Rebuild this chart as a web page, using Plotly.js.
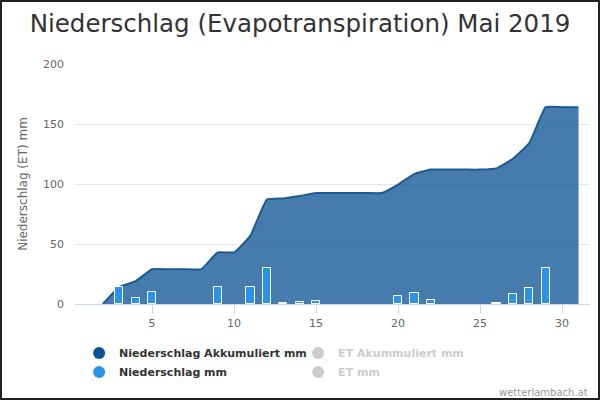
<!DOCTYPE html>
<html>
<head>
<meta charset="utf-8">
<script src="https://cdn.plot.ly/plotly-3.0.1.min.js"></script>
<style>
  body { margin: 0; background: #fff; }
  #chart { width: 596px; height: 396px; border: 2px solid #222; }
</style>
</head>
<body>
<div id="chart"></div>
<script>
const tage = [1,2,3,4,5,6,7,8,9,10,11,12,13,14,15,16,17,18,19,20,21,22,23,24,25,26,27,28,29,30,31];
// Tageswerte Niederschlag mm (null = kein Regen)
const niederschlag = [null,null,14,5,10,null,null,null,14,null,14,30,1,2,2.5,null,null,null,null,7,9,3.5,null,null,null,1,8,13,30,null,null];
// Niederschlag akkumuliert mm
const akkumuliert = [null,0,14,19,29,29,29,29,43,43,57,87,88,90,92.5,92.5,92.5,92.5,92.5,99.5,108.5,112,112,112,112,113,121,134,164,164,164];
const xTicks = [5,10,15,20,25,30];
const yTicks = [0,50,100,150,200];

const grau = '#cccccc';

const data = [
    {
        x: tage,
        y: akkumuliert,
        type: 'scatter',
        mode: 'lines',
        fill: 'tozeroy',
        fillcolor: 'rgba(13,83,148,0.77)',
        line: {color: '#1b5a96', width: 2, shape: 'spline', smoothing: 0.35},
        showlegend: false,
        hoverinfo: 'x+y'
    },
    {
        x: tage,
        y: niederschlag,
        type: 'bar',
        yaxis: 'y2',
        width: 0.5,
        marker: {color: '#2a93e6', line: {color: '#ffffff', width: 1}},
        showlegend: false
    },
    // Legendeneintraege
    {x: [null], y: [null], type: 'scatter', mode: 'markers', name: 'Niederschlag Akkumuliert mm',
     marker: {color: '#0d5394', size: 12}},
    {x: [null], y: [null], type: 'scatter', mode: 'markers', name: '<span style="color:#cccccc">ET Akummuliert mm</span>',
     marker: {color: grau, size: 12}},
    {x: [null], y: [null], type: 'scatter', mode: 'markers', name: 'Niederschlag mm',
     marker: {color: '#2a93e6', size: 12}},
    {x: [null], y: [null], type: 'scatter', mode: 'markers', name: '<span style="color:#cccccc">ET mm</span>',
     marker: {color: grau, size: 12}}
];

const layout = {
    width: 596,
    height: 396,
    margin: {l: 73, r: 8, t: 62, b: 94},
    paper_bgcolor: '#ffffff',
    plot_bgcolor: '#ffffff',
    font: {family: 'DejaVu Sans, sans-serif', color: '#666666', size: 11},
    title: {
        text: 'Niederschlag (Evapotranspiration) Mai 2019',
        font: {size: 24.5, color: '#333333'},
        x: 0.5, xref: 'container',
        y: 0.945, yref: 'container', yanchor: 'middle'
    },
    xaxis: {
        range: [0.3, 31.7],
        tickvals: xTicks,
        ticks: 'outside',
        ticklen: 9,
        tickcolor: '#ccd6eb',
        showline: true,
        linecolor: '#ccd6eb',
        linewidth: 1,
        showgrid: false,
        zeroline: false,
        fixedrange: true
    },
    yaxis: {
        range: [0, 200],
        tickvals: yTicks,
        showgrid: true,
        gridcolor: '#e6e6e6',
        zeroline: false,
        ticklabelstandoff: 10,
        title: {text: 'Niederschlag (ET) mm', font: {size: 12, color: '#666666'}, standoff: 12},
        fixedrange: true
    },
    yaxis2: {
        range: [0, 200],
        overlaying: 'y',
        visible: false,
        fixedrange: true
    },
    bargap: 0,
    legend: {
        orientation: 'h',
        x: 0.008, xanchor: 'left',
        y: 0.15, yref: 'container', yanchor: 'top',
        entrywidth: 174,
        font: {size: 11, color: '#333333', weight: 'bold'},
        itemclick: false,
        itemdoubleclick: false
    },
    annotations: [
        {
            text: 'wetterlambach.at',
            xref: 'paper', yref: 'paper',
            x: 1, y: -0.367,
            xanchor: 'right', yanchor: 'middle',
            showarrow: false,
            font: {size: 10, color: '#999999'}
        }
    ]
};

Plotly.newPlot('chart', data, layout, {displayModeBar: false});
</script>
</body>
</html>
